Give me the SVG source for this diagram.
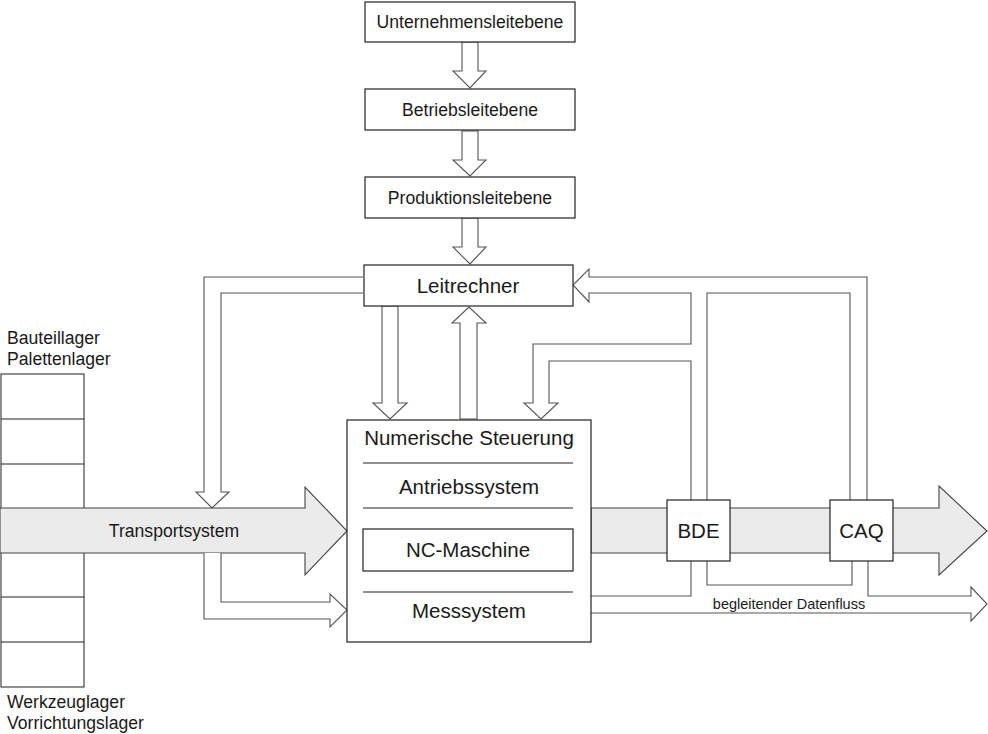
<svg xmlns="http://www.w3.org/2000/svg" width="988" height="734" viewBox="0 0 988 734">
<style>
.box{fill:#fff;stroke:#222;stroke-width:1.2}
.arr{fill:#fff;stroke:#555;stroke-width:1.1;stroke-linejoin:miter}
.ln{fill:none;stroke:#555;stroke-width:1.1}
.band{fill:#ebebeb;stroke:#444;stroke-width:1.1}
.sep{stroke:#222;stroke-width:1.2}
text{font-family:"Liberation Sans",Arial,sans-serif;fill:#1a1a1a}
.t15{font-size:17.6px;text-anchor:middle}
.t18{font-size:20.5px;text-anchor:middle}
.t16{font-size:17.6px}
.t12{font-size:14.5px;text-anchor:middle}
</style>
<rect width="988" height="734" fill="#fff"/>

<g id="storage">
  <rect x="1" y="374" width="83" height="313" fill="#fff" stroke="#333" stroke-width="1.1"/>
  <line x1="1" y1="419" x2="84" y2="419" class="sep" stroke="#333"/>
  <line x1="1" y1="464" x2="84" y2="464" class="sep" stroke="#333"/>
  <line x1="1" y1="597" x2="84" y2="597" class="sep" stroke="#333"/>
  <line x1="1" y1="642" x2="84" y2="642" class="sep" stroke="#333"/>
  <text x="7" y="344" class="t16">Bauteillager</text>
  <text x="7" y="365" class="t16">Palettenlager</text>
  <text x="7" y="708" class="t16">Werkzeuglager</text>
  <text x="7" y="729" class="t16">Vorrichtungslager</text>
</g>

<g id="transport">
  <polygon class="band" points="0,508 305,508 305,487 347,531 305,575 305,553 0,553"/>
  <polygon class="band" points="591,508 939,508 939,486 987,531 939,575 939,553 591,553"/>
  <text x="174" y="537" class="t16" text-anchor="middle">Transportsystem</text>
</g>

<g id="connectors">
  <polygon class="arr" points="462,42 478,42 478,71 486,71 470,88 453,71 462,71"/>
  <polygon class="arr" points="462,131 478,131 478,160 486,160 470,176 453,160 462,160"/>
  <polygon class="arr" points="462,218 478,218 478,247 486,247 470,264 453,247 462,247"/>
  <polygon class="arr" points="382,306 398,306 398,403 407,403 390,419 373,403 382,403"/>
  <polygon class="arr" points="460,419 460,323 452,323 469,307 486,323 477,323 477,419"/>
  <path class="arr" d="M363,277 L204,277 L204,492 L196,492 L212,508 L229,492 L221,492 L221,293 L363,293"/>
  <path class="arr" d="M204,553 L204,619 L330,619 L330,627 L347,610 L330,594 L330,602 L221,602 L221,553"/>
  <path class="ln" d="M867,500 L867,277 L589,277 L589,269 L573,285 L589,302 L589,293 L691,293 L691,344 L533,344 L533,403 L524,403 L541,419 L558,403 L549,403 L549,361 L691,361 L691,500"/>
  <path class="ln" d="M707,500 L707,293 L850,293 L850,500"/>
  <path class="ln" d="M591,596 L691,596 L691,561 M707,561 L707,585 L852,585 L852,561 M868,561 L868,596 L971,596 L971,587 L987,604 L971,621 L971,613 L591,613"/>
  <text x="789" y="609" class="t12">begleitender Datenfluss</text>
</g>

<g id="unternehmen">
  <rect class="box" x="365" y="2" width="210" height="40"/>
  <text x="470" y="28" class="t15">Unternehmensleitebene</text>
</g>
<g id="betrieb">
  <rect class="box" x="365" y="89" width="210" height="41"/>
  <text x="470" y="116" class="t15">Betriebsleitebene</text>
</g>
<g id="produktion">
  <rect class="box" x="365" y="177" width="210" height="41"/>
  <text x="470" y="204" class="t15">Produktionsleitebene</text>
</g>
<g id="leitrechner">
  <rect class="box" x="364" y="265" width="209" height="41"/>
  <text x="468" y="293" class="t18">Leitrechner</text>
</g>

<g id="nc">
  <rect class="box" x="347" y="420" width="244" height="222"/>
  <text x="469" y="445" class="t18">Numerische Steuerung</text>
  <line class="sep" x1="363" y1="463" x2="573" y2="463"/>
  <text x="469" y="494" class="t18">Antriebssystem</text>
  <line class="sep" x1="363" y1="508" x2="573" y2="508"/>
  <rect class="box" x="363" y="529" width="210" height="42"/>
  <text x="468" y="557" class="t18">NC-Maschine</text>
  <line class="sep" x1="363" y1="592" x2="573" y2="592"/>
  <text x="469" y="618" class="t18">Messsystem</text>
</g>

<g id="bde">
  <rect class="box" x="667" y="500" width="63" height="61"/>
  <text x="698.5" y="538" class="t18">BDE</text>
</g>
<g id="caq">
  <rect class="box" x="830" y="500" width="63" height="61"/>
  <text x="861.5" y="538" class="t18">CAQ</text>
</g>
</svg>
